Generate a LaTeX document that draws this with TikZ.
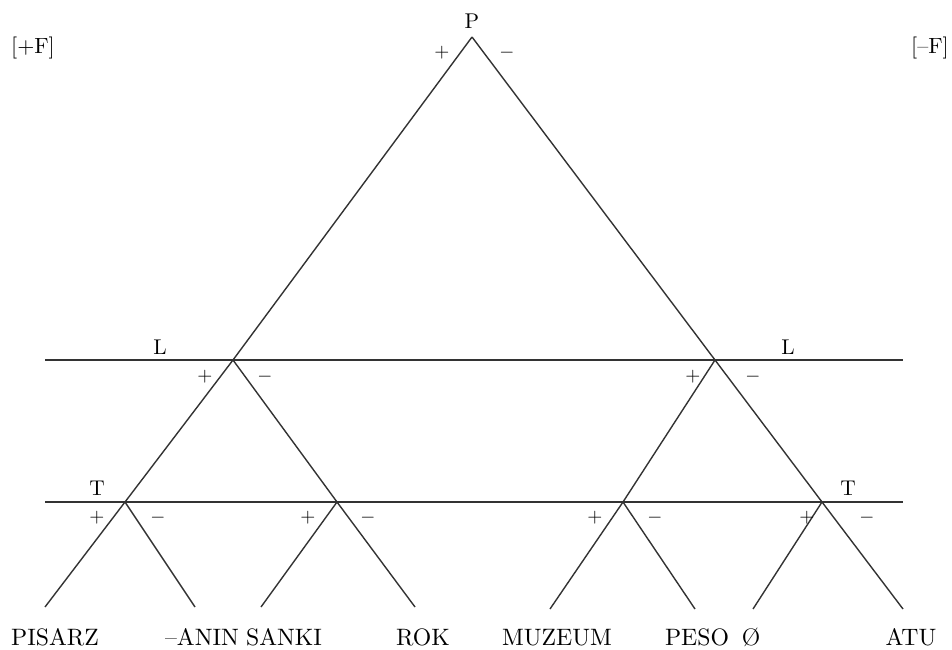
\documentclass[tikz,border=0pt]{standalone}
\begin{document}
\begin{tikzpicture}[x=0.75pt,y=-0.75pt,
  edge/.style={draw=black!80,line width=1.05pt},
  lbl/.style={inner sep=0pt,font=\fontsize{10}{12}\selectfont},
  leaf/.style={inner sep=0pt,font=\fontsize{10}{12}\selectfont},
  sgn/.style={inner sep=0pt,font=\fontsize{10}{12}\selectfont}]
\useasboundingbox (0,0) rectangle (952,649);
% junctions
\coordinate (P) at (472,37);
\coordinate (La) at (233,360);
\coordinate (Lb) at (715,360);
\coordinate (T1) at (125,502);
\coordinate (T2) at (337,502);
\coordinate (T3) at (623,502);
\coordinate (T4) at (822,502);
\coordinate (e1) at (45,607);
\coordinate (e2) at (195,607);
\coordinate (e3) at (261,607);
\coordinate (e4) at (415,607);
\coordinate (e5) at (550,609);
\coordinate (e6) at (695,609);
\coordinate (e7) at (753,609);
\coordinate (e8) at (903,609);
\coordinate (hL0) at (45,360);
\coordinate (hL1) at (903,360);
\coordinate (hT0) at (45,502);
\coordinate (hT1) at (903,502);
% horizontal lines
\draw[edge] (hL0) -- (hL1);
\draw[edge] (hT0) -- (hT1);
% tree
\draw[edge] (P) -- (La) -- (T1) -- (e1);
\draw[edge] (P) -- (Lb) -- (T4) -- (e8);
\draw[edge] (La) -- (T2) -- (e4);
\draw[edge] (Lb) -- (T3);
\draw[edge] (T1) -- (e2);
\draw[edge] (T2) -- (e3);
\draw[edge] (T3) -- (e5);
\draw[edge] (T3) -- (e6);
\draw[edge] (T4) -- (e7);
% labels
\node[lbl] (lP) at (472,21) {\scalebox{1.6}{P}};
\node[lbl] (lpF) at (33,48) {\scalebox{1.65}{[+F]}};
\node[lbl] (lmF) at (930,48) {\scalebox{1.65}{[--F]}};
\node[lbl] (lLa) at (160,347) {\scalebox{1.6}{L}};
\node[lbl] (lLb) at (788,347) {\scalebox{1.6}{L}};
\node[lbl] (lT1) at (97,488) {\scalebox{1.6}{T}};
\node[lbl] (lT4) at (848,488) {\scalebox{1.6}{T}};
% signs
\node[sgn] (sP1) at (442,53) {\scalebox{1.45}{$+$}};
\node[sgn] (sP2) at (507,53) {\scalebox{1.45}{$-$}};
\node[sgn] (sLa1) at (205,377) {\scalebox{1.45}{$+$}};
\node[sgn] (sLa2) at (265,377) {\scalebox{1.45}{$-$}};
\node[sgn] (sLb1) at (693,377) {\scalebox{1.45}{$+$}};
\node[sgn] (sLb2) at (753,377) {\scalebox{1.45}{$-$}};
\node[sgn] (sT11) at (97,518) {\scalebox{1.45}{$+$}};
\node[sgn] (sT12) at (158,518) {\scalebox{1.45}{$-$}};
\node[sgn] (sT21) at (308,518) {\scalebox{1.45}{$+$}};
\node[sgn] (sT22) at (368,518) {\scalebox{1.45}{$-$}};
\node[sgn] (sT31) at (595,518) {\scalebox{1.45}{$+$}};
\node[sgn] (sT32) at (655,518) {\scalebox{1.45}{$-$}};
\node[sgn] (sT41) at (807,518) {\scalebox{1.45}{$+$}};
\node[sgn] (sT42) at (867,518) {\scalebox{1.45}{$-$}};
% leaves
\node[leaf,anchor=base] (w1) at (55,645) {\scalebox{1.78}{PISARZ}};
\node[leaf,anchor=base] (w2) at (202,645) {\scalebox{1.78}{--ANIN}};
\node[leaf,anchor=base] (w3) at (284,645) {\scalebox{1.78}{SANKI}};
\node[leaf,anchor=base] (w4) at (423,645) {\scalebox{1.78}{ROK}};
\node[leaf,anchor=base] (w5) at (557,645) {\scalebox{1.78}{MUZEUM}};
\node[leaf,anchor=base] (w6) at (697,645) {\scalebox{1.78}{PESO}};
\node[leaf,anchor=base] (w7) at (751,645) {\scalebox{1.78}{\O}};
\node[leaf,anchor=base] (w8) at (911,645) {\scalebox{1.78}{ATU}};
\end{tikzpicture}
\end{document}
